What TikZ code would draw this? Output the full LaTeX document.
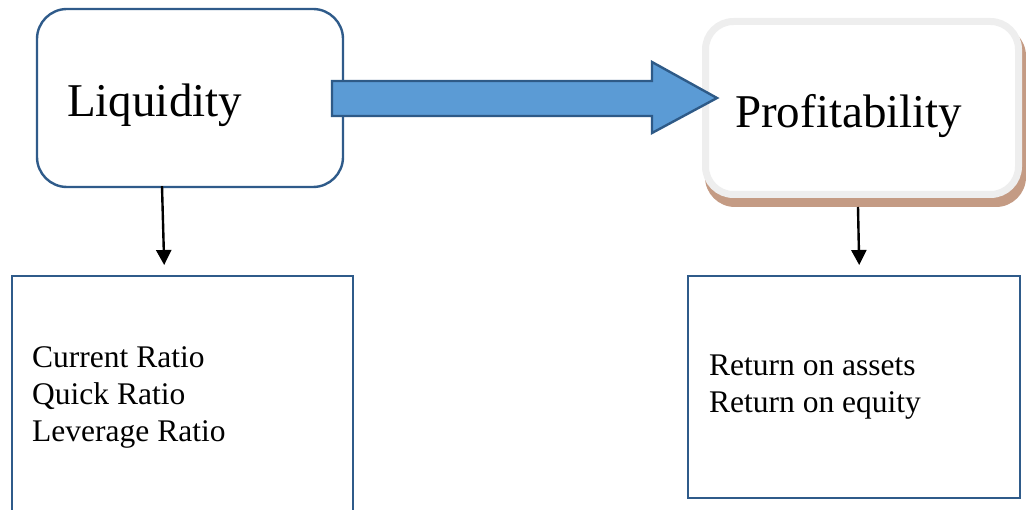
\documentclass[tikz,border=0pt]{standalone}
\usepackage{fontspec}
\setmainfont{Liberation Serif}
\usetikzlibrary{arrows.meta,calc}
\definecolor{boxblue}{HTML}{2F5B8A}
\definecolor{arrowfill}{HTML}{5B9BD5}
\definecolor{arrowline}{HTML}{2E5A87}
\definecolor{softgray}{HTML}{EEEEEE}
\definecolor{shadowbrown}{HTML}{C49B84}
\tikzset{
  roundbox/.style={draw=boxblue, line width=2.4pt, rounded corners=30pt, fill=white, inner sep=0pt},
  listbox/.style={draw=boxblue, line width=2.4pt, fill=white, inner sep=0pt},
  bigtext/.style={font=\fontsize{47}{52}\selectfont, inner sep=0pt},
  listtext/.style={font=\fontsize{31.5}{37}\selectfont, align=left, inner sep=0pt},
  downarrow/.style={line width=2.4pt, -{Triangle[length=15pt,width=15pt]}},
}
\begin{document}
\begin{tikzpicture}[x=1pt,y=-1pt]
\useasboundingbox (0,0) rectangle (1026,510);
% Liquidity box
\node[roundbox, minimum width=306pt, minimum height=178pt] (liq) at (190,98) {};
\node[bigtext, anchor=base west] (liqtext) at (67,117) {Liquidity};
% Profitability box with shadow and soft border
\fill[shadowbrown, rounded corners=30pt] (705,26) rectangle (1026,207);
\node[draw=softgray, line width=7pt, rounded corners=28pt, fill=white, minimum width=313pt, minimum height=173pt, inner sep=0pt] (prof) at (862,108) {};
\node[bigtext, anchor=base west] (proftext) at (735,128) {Profitability};
% bottom boxes
\node[listbox, minimum width=341pt, minimum height=250pt, anchor=north west] (ratios) at (11,275) {};
\node[listtext, anchor=base west] (ratiotext) at (32,442) {Current Ratio\\Quick Ratio\\Leverage Ratio};
\node[listbox, minimum width=332pt, minimum height=222pt, anchor=north west] (returns) at (687,275) {};
\node[listtext, anchor=base west] (returntext) at (709,413) {Return on assets\\Return on equity};
% big block arrow
\filldraw[fill=arrowfill, draw=arrowline, line width=2.4pt, line join=miter]
  (332,81) -- (652,81) -- (652,62) -- (717,98) -- (652,133) -- (652,116) -- (332,116) -- cycle;
% small arrows
\draw[downarrow] ([xshift=-28pt,yshift=2pt]liq.south) -- ([xshift=-18.5pt,yshift=10pt]ratios.north);
\draw[downarrow] ([xshift=-4pt,yshift=-9pt]prof.south) -- ([xshift=5pt,yshift=10pt]returns.north);
\end{tikzpicture}
\end{document}
